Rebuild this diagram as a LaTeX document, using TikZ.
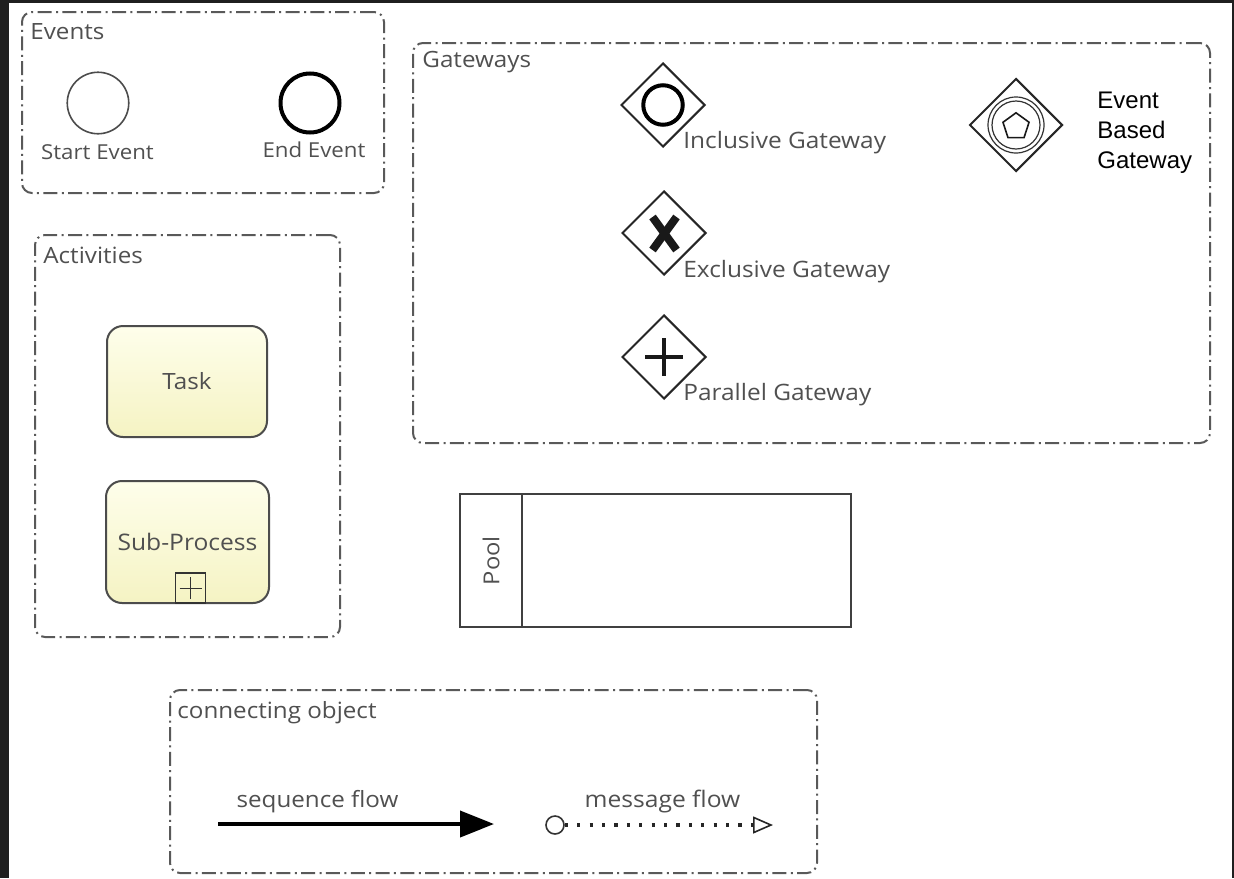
\documentclass[tikz,border=0pt]{standalone}
\usepackage{fontspec}
\usepackage{tikz}
\usetikzlibrary{shapes.geometric,arrows.meta}
\setmainfont{Open Sans}[FakeStretch = 1.08]
\newfontfamily\arialfont{Liberation Sans}

\definecolor{framegray}{HTML}{1F1F1F}
\definecolor{txtgray}{HTML}{505050}
\definecolor{taskfillA}{HTML}{FEFEEB}
\definecolor{taskfillB}{HTML}{F5F3C3}

\tikzset{
  group/.style = {draw = black!65, line width = 1pt, rounded corners = 5pt,
                  dash pattern = on 7pt off 2.2pt on 1pt off 2.2pt, inner sep = 0pt},
  grouptitle/.style = {anchor = base west, inner sep = 0pt, text = txtgray,
                       font = \fontsize{11.2}{13}\selectfont},
  lbl/.style = {inner sep = 0pt, text = txtgray, font = \fontsize{11.3}{13}\selectfont},
  gateway/.style = {diamond, aspect = 1, draw = black!85, line width = 1pt,
                    minimum size = 42pt, inner sep = 0pt},
  activity/.style = {draw = black!70, line width = 1pt, rounded corners = 8pt,
                     top color = taskfillA, bottom color = taskfillB,
                     text = txtgray, font = \fontsize{11.2}{13}\selectfont},
  marker/.style = {line width = 2.2pt, black!90}
}

\begin{document}
\begin{tikzpicture}[x = 0.5pt, y = -0.5pt]
  \useasboundingbox (0,0) rectangle (1234,878);
  \fill [framegray] (0,0) rectangle (1234,878);
  \fill [white] (9,3) rectangle (1232,878);

  % groups
  \node (events) [group, minimum width = 181pt, minimum height = 90.5pt] at (203,102.5) {};
  \node (gateways) [group, minimum width = 398.5pt, minimum height = 200pt] at (811.5,243) {};
  \node (activities) [group, minimum width = 152.5pt, minimum height = 201pt] at (187.5,436) {};
  \node (connecting) [group, minimum width = 323.5pt, minimum height = 91.5pt] at (493.5,781.5) {};
  \node (eventstitle) [grouptitle] at (30,39) {Events};
  \node (gatewaystitle) [grouptitle] at (422,67) {Gateways};
  \node (activitiestitle) [grouptitle] at (43,263) {Activities};
  \node (connectingtitle) [grouptitle] at (177,718) {connecting object};

  % events
  \node (start) [circle, draw = black!70, line width = 0.8pt, minimum size = 30.75pt] at (98,103) {};
  \node (end) [circle, draw = black, line width = 2pt, minimum size = 29.5pt] at (310,103) {};
  \node (startlbl) [lbl, anchor = base, font = \fontsize{10.3}{12}\selectfont] at (97.5,159) {Start Event};
  \node (endlbl) [lbl, anchor = base, font = \fontsize{10.3}{12}\selectfont] at (314,157) {End Event};

  % gateways
  \node (incl) [gateway] at (663,105) {};
  \node (inclmark) [circle, draw = black, line width = 2pt, minimum size = 19.75pt] at (incl) {};
  \node (excl) [gateway] at (664,233) {};
  \draw [marker, line width = 4pt] (652.5,217) -- (676.5,250);
  \draw [marker, line width = 4pt] (676.5,217) -- (652.5,250);
  \node (par) [gateway] at (664,357) {};
  \draw [marker] (645,357) -- (683,357);
  \draw [marker] (664,338) -- (664,376);
  \node (evt) [gateway, minimum size = 46.5pt] at (1016,125) {};
  \node (evtouter) [circle, draw = black!80, line width = 0.6pt, minimum size = 28pt] at (evt) {};
  \node (evtinner) [circle, draw = black!80, line width = 0.6pt, minimum size = 24pt] at (evt) {};
  \node (evtpent) [regular polygon, regular polygon sides = 5, draw = black!90,
                   line width = 0.8pt, minimum size = 13.7pt, inner sep = 0pt] at (1016,126.5) {};
  \node (incllbl) [lbl, anchor = base west] at (683,148) {Inclusive Gateway};
  \node (excllbl) [lbl, anchor = base west] at (683,277) {Exclusive Gateway};
  \node (parlbl) [lbl, anchor = base west] at (683,400) {Parallel Gateway};
  \node (evtlbl) [inner sep = 0pt, anchor = west, align = left,
                  font = \arialfont\fontsize{12}{15}\selectfont] at (1097,133) {Event\\Based\\Gateway};

  % activities
  \node (task) [activity, minimum width = 80pt, minimum height = 55.5pt] at (187,381.5) {Task};
  \node (sub) [activity, minimum width = 81.5pt, minimum height = 61pt, font = \fontsize{11.4}{13}\selectfont]
              at (187.5,542) {Sub-Process};
  \node (subplus) [draw = black!80, line width = 0.8pt, minimum size = 15pt, inner sep = 0pt,
                   anchor = south, xshift = 1.5pt] at (sub.south) {};
  \draw [black!80, line width = 0.7pt] ([xshift = -5.5pt] subplus.center) -- ([xshift = 5.5pt] subplus.center);
  \draw [black!80, line width = 0.7pt] ([yshift = -5.5pt] subplus.center) -- ([yshift = 5.5pt] subplus.center);

  % pool
  \node (pool) [draw = black!75, line width = 1pt, minimum width = 195.5pt, minimum height = 66.5pt] at (655.5,560.5) {};
  \node (poolhead) [draw = black!75, line width = 1pt, minimum width = 31pt, minimum height = 66.5pt,
                    anchor = west, text = txtgray, font = \fontsize{11}{13}\selectfont] at (pool.west)
                    {\rotatebox{90}{Pool}};

  % connecting objects
  \coordinate (sfa) at (218,824);
  \coordinate (sfb) at (494,824);
  \draw [-{Triangle[length = 17pt, width = 13pt]}, line width = 2pt, black] (sfa) -- (sfb);
  \node (sflbl) [lbl, anchor = base, font = \fontsize{11.2}{13}\selectfont] at (317.5,807) {sequence flow};
  \node (mfsrc) [circle, draw = black!80, line width = 0.8pt, minimum size = 9pt, inner sep = 0pt] at (555,825) {};
  \coordinate (mfend) at (773,825);
  \draw [-{Triangle[open, length = 10pt, width = 8.5pt, line width = 0.8pt]}, black!85,
         line width = 1.6pt, dash pattern = on 1.6pt off 4.6pt] (mfsrc) -- (mfend);
  \node (mflbl) [lbl, anchor = base, font = \fontsize{11.4}{13}\selectfont] at (662.5,807) {message flow};
\end{tikzpicture}
\end{document}
